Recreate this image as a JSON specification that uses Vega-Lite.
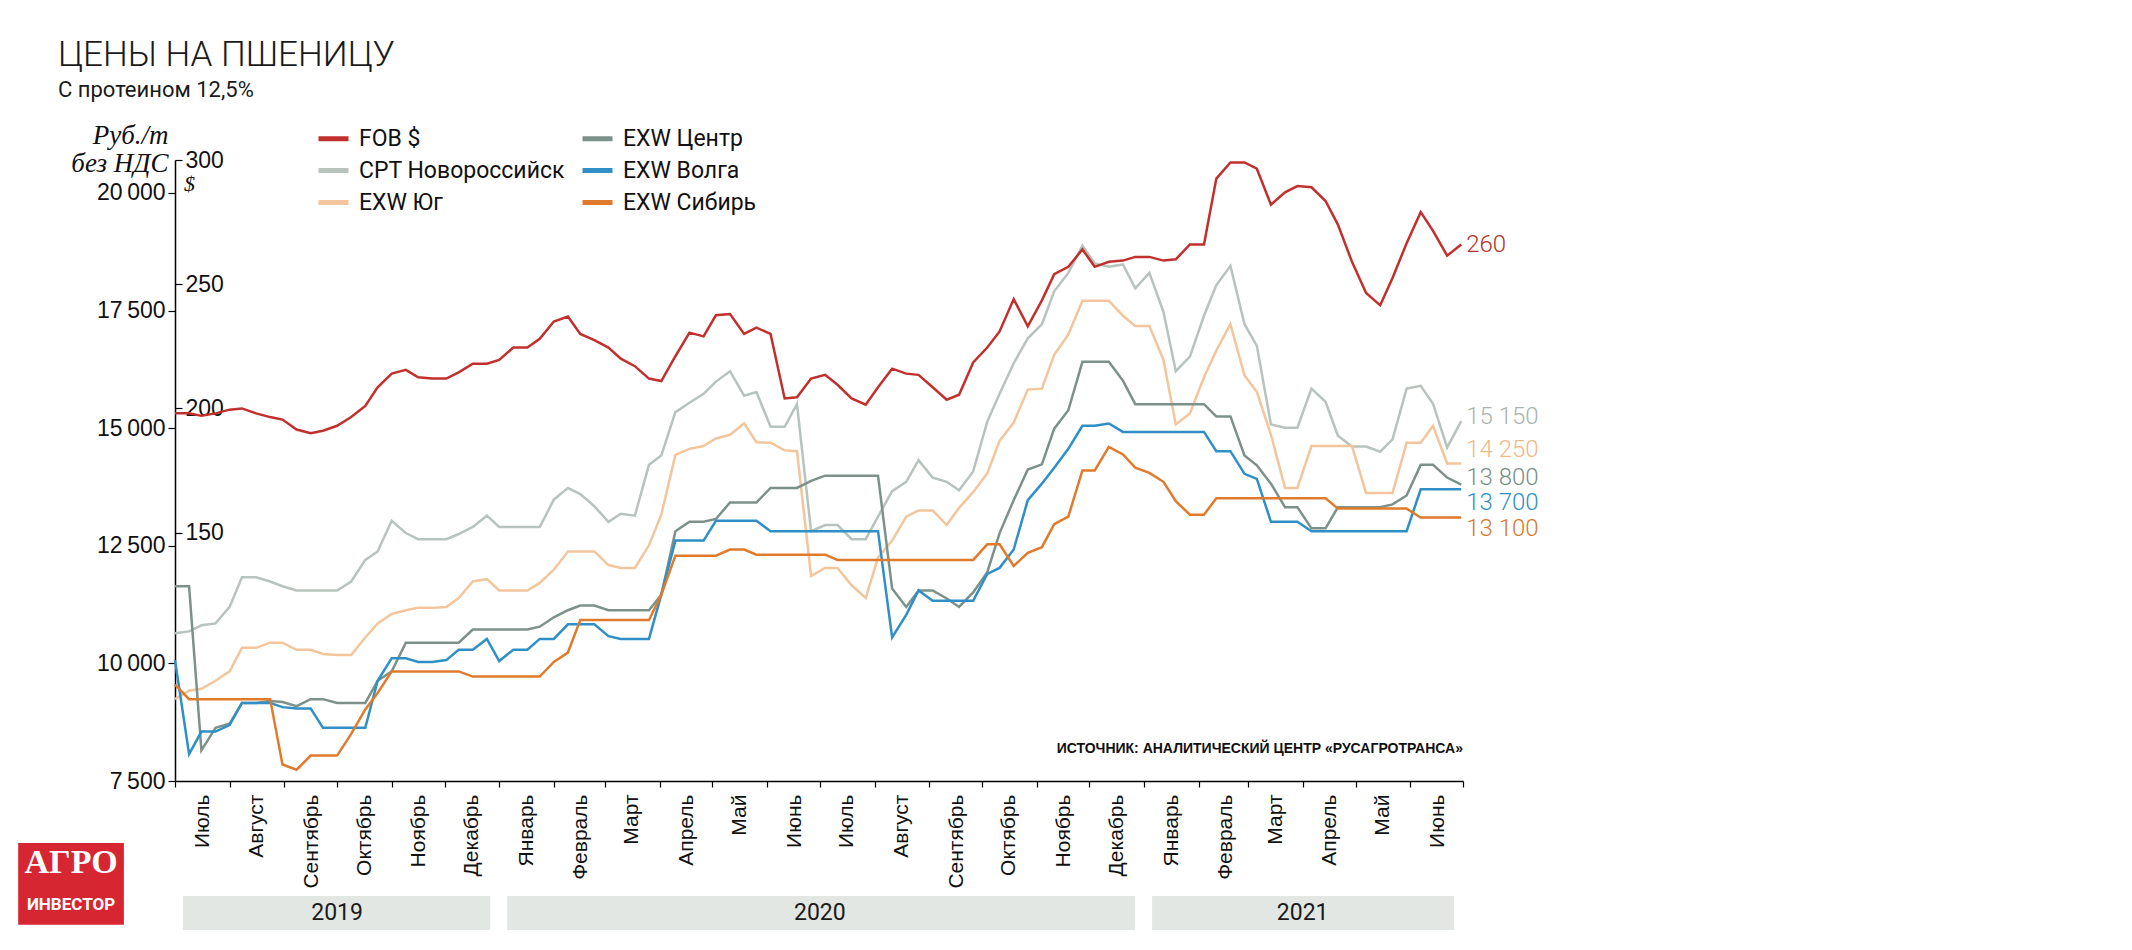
{
  "$schema": "https://vega.github.io/schema/vega-lite/v6.json",
  "width": 1288,
  "height": 621,
  "autosize": {"type": "none"},
  "padding": {"left": 175, "top": 160, "right": 669, "bottom": 169},
  "background": "#ffffff",
  "config": {"view": {"stroke": null}, "font": "Liberation Sans"},
  "title": {
    "text": "ЦЕНЫ НА ПШЕНИЦУ",
    "subtitle": "С протеином 12,5%",
    "anchor": "start",
    "frame": "group",
    "dx": -117,
    "offset": 20,
    "font": "Roboto, sans-serif",
    "fontSize": 35,
    "fontWeight": 300,
    "color": "#1a1a1a",
    "subtitleFont": "Roboto, sans-serif",
    "subtitleFontSize": 22,
    "subtitleFontWeight": 400,
    "subtitleColor": "#1a1a1a",
    "subtitlePadding": 7
  },
  "datasets": {
    "prices": [
      {"date": "2019-07-01", "FOB $": 198, "CPT Новороссийск": 10640, "EXW Юг": 9240, "EXW Центр": 11640, "EXW Волга": 10070, "EXW Сибирь": 9550},
      {"date": "2019-07-09", "FOB $": 198, "CPT Новороссийск": 10680, "EXW Юг": 9420, "EXW Центр": 11640, "EXW Волга": 8070, "EXW Сибирь": 9240},
      {"date": "2019-07-16", "FOB $": 197, "CPT Новороссийск": 10810, "EXW Юг": 9460, "EXW Центр": 8150, "EXW Волга": 8550, "EXW Сибирь": 9240},
      {"date": "2019-07-24", "FOB $": 198, "CPT Новороссийск": 10850, "EXW Юг": 9630, "EXW Центр": 8630, "EXW Волга": 8550, "EXW Сибирь": 9240},
      {"date": "2019-08-01", "FOB $": 199.5, "CPT Новороссийск": 11200, "EXW Юг": 9830, "EXW Центр": 8720, "EXW Волга": 8690, "EXW Сибирь": 9240},
      {"date": "2019-08-08", "FOB $": 200, "CPT Новороссийск": 11830, "EXW Юг": 10330, "EXW Центр": 9160, "EXW Волга": 9160, "EXW Сибирь": 9240},
      {"date": "2019-08-16", "FOB $": 198, "CPT Новороссийск": 11830, "EXW Юг": 10330, "EXW Центр": 9160, "EXW Волга": 9160, "EXW Сибирь": 9240},
      {"date": "2019-08-24", "FOB $": 196.5, "CPT Новороссийск": 11740, "EXW Юг": 10440, "EXW Центр": 9200, "EXW Волга": 9160, "EXW Сибирь": 9240},
      {"date": "2019-08-31", "FOB $": 195.5, "CPT Новороссийск": 11640, "EXW Юг": 10440, "EXW Центр": 9180, "EXW Волга": 9070, "EXW Сибирь": 7850},
      {"date": "2019-09-08", "FOB $": 191.5, "CPT Новороссийск": 11550, "EXW Юг": 10290, "EXW Центр": 9090, "EXW Волга": 9040, "EXW Сибирь": 7740},
      {"date": "2019-09-16", "FOB $": 190, "CPT Новороссийск": 11550, "EXW Юг": 10290, "EXW Центр": 9240, "EXW Волга": 9040, "EXW Сибирь": 8040},
      {"date": "2019-09-23", "FOB $": 191, "CPT Новороссийск": 11550, "EXW Юг": 10200, "EXW Центр": 9240, "EXW Волга": 8630, "EXW Сибирь": 8040},
      {"date": "2019-10-01", "FOB $": 193, "CPT Новороссийск": 11550, "EXW Юг": 10180, "EXW Центр": 9160, "EXW Волга": 8630, "EXW Сибирь": 8040},
      {"date": "2019-10-09", "FOB $": 196.5, "CPT Новороссийск": 11740, "EXW Юг": 10180, "EXW Центр": 9160, "EXW Волга": 8630, "EXW Сибирь": 8500},
      {"date": "2019-10-17", "FOB $": 201, "CPT Новороссийск": 12200, "EXW Юг": 10550, "EXW Центр": 9160, "EXW Волга": 8630, "EXW Сибирь": 9020},
      {"date": "2019-10-24", "FOB $": 208.5, "CPT Новороссийск": 12380, "EXW Юг": 10850, "EXW Центр": 9630, "EXW Волга": 9630, "EXW Сибирь": 9370},
      {"date": "2019-11-01", "FOB $": 214, "CPT Новороссийск": 13030, "EXW Юг": 11050, "EXW Центр": 9830, "EXW Волга": 10110, "EXW Сибирь": 9830},
      {"date": "2019-11-09", "FOB $": 215.5, "CPT Новороссийск": 12770, "EXW Юг": 11130, "EXW Центр": 10440, "EXW Волга": 10110, "EXW Сибирь": 9830},
      {"date": "2019-11-16", "FOB $": 212.5, "CPT Новороссийск": 12640, "EXW Юг": 11180, "EXW Центр": 10440, "EXW Волга": 10030, "EXW Сибирь": 9830},
      {"date": "2019-11-24", "FOB $": 212, "CPT Новороссийск": 12640, "EXW Юг": 11180, "EXW Центр": 10440, "EXW Волга": 10030, "EXW Сибирь": 9830},
      {"date": "2019-12-02", "FOB $": 212, "CPT Новороссийск": 12640, "EXW Юг": 11200, "EXW Центр": 10440, "EXW Волга": 10070, "EXW Сибирь": 9830},
      {"date": "2019-12-09", "FOB $": 214.5, "CPT Новороссийск": 12750, "EXW Юг": 11390, "EXW Центр": 10440, "EXW Волга": 10290, "EXW Сибирь": 9830},
      {"date": "2019-12-17", "FOB $": 218, "CPT Новороссийск": 12900, "EXW Юг": 11740, "EXW Центр": 10720, "EXW Волга": 10290, "EXW Сибирь": 9720},
      {"date": "2019-12-25", "FOB $": 218, "CPT Новороссийск": 13140, "EXW Юг": 11790, "EXW Центр": 10720, "EXW Волга": 10520, "EXW Сибирь": 9720},
      {"date": "2020-01-01", "FOB $": 219.5, "CPT Новороссийск": 12900, "EXW Юг": 11550, "EXW Центр": 10720, "EXW Волга": 10050, "EXW Сибирь": 9720},
      {"date": "2020-01-09", "FOB $": 224.5, "CPT Новороссийск": 12900, "EXW Юг": 11550, "EXW Центр": 10720, "EXW Волга": 10290, "EXW Сибирь": 9720},
      {"date": "2020-01-17", "FOB $": 224.5, "CPT Новороссийск": 12900, "EXW Юг": 11550, "EXW Центр": 10720, "EXW Волга": 10290, "EXW Сибирь": 9720},
      {"date": "2020-01-24", "FOB $": 228, "CPT Новороссийск": 12900, "EXW Юг": 11710, "EXW Центр": 10780, "EXW Волга": 10520, "EXW Сибирь": 9720},
      {"date": "2020-02-01", "FOB $": 235, "CPT Новороссийск": 13480, "EXW Юг": 11990, "EXW Центр": 10980, "EXW Волга": 10520, "EXW Сибирь": 10030},
      {"date": "2020-02-09", "FOB $": 237, "CPT Новороссийск": 13730, "EXW Юг": 12380, "EXW Центр": 11130, "EXW Волга": 10830, "EXW Сибирь": 10230},
      {"date": "2020-02-16", "FOB $": 230, "CPT Новороссийск": 13600, "EXW Юг": 12380, "EXW Центр": 11230, "EXW Волга": 10830, "EXW Сибирь": 10920},
      {"date": "2020-02-24", "FOB $": 227.5, "CPT Новороссийск": 13340, "EXW Юг": 12380, "EXW Центр": 11230, "EXW Волга": 10830, "EXW Сибирь": 10920},
      {"date": "2020-03-03", "FOB $": 224.5, "CPT Новороссийск": 13010, "EXW Юг": 12090, "EXW Центр": 11130, "EXW Волга": 10580, "EXW Сибирь": 10920},
      {"date": "2020-03-10", "FOB $": 220, "CPT Новороссийск": 13180, "EXW Юг": 12030, "EXW Центр": 11130, "EXW Волга": 10520, "EXW Сибирь": 10920},
      {"date": "2020-03-18", "FOB $": 217, "CPT Новороссийск": 13140, "EXW Юг": 12030, "EXW Центр": 11130, "EXW Волга": 10520, "EXW Сибирь": 10920},
      {"date": "2020-03-26", "FOB $": 212, "CPT Новороссийск": 14220, "EXW Юг": 12510, "EXW Центр": 11130, "EXW Волга": 10520, "EXW Сибирь": 10920},
      {"date": "2020-04-02", "FOB $": 211, "CPT Новороссийск": 14420, "EXW Юг": 13160, "EXW Центр": 11460, "EXW Волга": 11460, "EXW Сибирь": 11460},
      {"date": "2020-04-10", "FOB $": 221, "CPT Новороссийск": 15340, "EXW Юг": 14430, "EXW Центр": 12810, "EXW Волга": 12610, "EXW Сибирь": 12290},
      {"date": "2020-04-18", "FOB $": 230.5, "CPT Новороссийск": 15540, "EXW Юг": 14560, "EXW Центр": 13010, "EXW Волга": 12610, "EXW Сибирь": 12290},
      {"date": "2020-04-26", "FOB $": 229, "CPT Новороссийск": 15730, "EXW Юг": 14620, "EXW Центр": 13010, "EXW Волга": 12610, "EXW Сибирь": 12290},
      {"date": "2020-05-03", "FOB $": 237.5, "CPT Новороссийск": 15990, "EXW Юг": 14780, "EXW Центр": 13070, "EXW Волга": 13030, "EXW Сибирь": 12290},
      {"date": "2020-05-11", "FOB $": 238, "CPT Новороссийск": 16210, "EXW Юг": 14860, "EXW Центр": 13420, "EXW Волга": 13030, "EXW Сибирь": 12420},
      {"date": "2020-05-19", "FOB $": 230, "CPT Новороссийск": 15690, "EXW Юг": 15100, "EXW Центр": 13420, "EXW Волга": 13030, "EXW Сибирь": 12420},
      {"date": "2020-05-26", "FOB $": 232.5, "CPT Новороссийск": 15770, "EXW Юг": 14700, "EXW Центр": 13420, "EXW Волга": 13030, "EXW Сибирь": 12310},
      {"date": "2020-06-03", "FOB $": 230, "CPT Новороссийск": 15030, "EXW Юг": 14690, "EXW Центр": 13730, "EXW Волга": 12810, "EXW Сибирь": 12310},
      {"date": "2020-06-11", "FOB $": 204, "CPT Новороссийск": 15030, "EXW Юг": 14530, "EXW Центр": 13730, "EXW Волга": 12810, "EXW Сибирь": 12310},
      {"date": "2020-06-18", "FOB $": 204.5, "CPT Новороссийск": 15510, "EXW Юг": 14510, "EXW Центр": 13730, "EXW Волга": 12810, "EXW Сибирь": 12310},
      {"date": "2020-06-26", "FOB $": 212, "CPT Новороссийск": 12810, "EXW Юг": 11860, "EXW Центр": 13880, "EXW Волга": 12810, "EXW Сибирь": 12310},
      {"date": "2020-07-04", "FOB $": 213.5, "CPT Новороссийск": 12940, "EXW Юг": 12030, "EXW Центр": 13990, "EXW Волга": 12810, "EXW Сибирь": 12310},
      {"date": "2020-07-11", "FOB $": 209.5, "CPT Новороссийск": 12940, "EXW Юг": 12030, "EXW Центр": 13990, "EXW Волга": 12810, "EXW Сибирь": 12200},
      {"date": "2020-07-19", "FOB $": 204, "CPT Новороссийск": 12640, "EXW Юг": 11660, "EXW Центр": 13990, "EXW Волга": 12810, "EXW Сибирь": 12200},
      {"date": "2020-07-27", "FOB $": 201.5, "CPT Новороссийск": 12640, "EXW Юг": 11390, "EXW Центр": 13990, "EXW Волга": 12810, "EXW Сибирь": 12200},
      {"date": "2020-08-03", "FOB $": 208.5, "CPT Новороссийск": 13120, "EXW Юг": 12250, "EXW Центр": 13990, "EXW Волга": 12810, "EXW Сибирь": 12200},
      {"date": "2020-08-11", "FOB $": 216, "CPT Новороссийск": 13660, "EXW Юг": 12610, "EXW Центр": 11590, "EXW Волга": 10550, "EXW Сибирь": 12200},
      {"date": "2020-08-19", "FOB $": 214, "CPT Новороссийск": 13860, "EXW Юг": 13120, "EXW Центр": 11200, "EXW Волга": 11030, "EXW Сибирь": 12200},
      {"date": "2020-08-26", "FOB $": 213.5, "CPT Новороссийск": 14320, "EXW Юг": 13250, "EXW Центр": 11550, "EXW Волга": 11550, "EXW Сибирь": 12200},
      {"date": "2020-09-03", "FOB $": 208.5, "CPT Новороссийск": 13950, "EXW Юг": 13250, "EXW Центр": 11550, "EXW Волга": 11330, "EXW Сибирь": 12200},
      {"date": "2020-09-11", "FOB $": 203.5, "CPT Новороссийск": 13860, "EXW Юг": 12940, "EXW Центр": 11380, "EXW Волга": 11330, "EXW Сибирь": 12200},
      {"date": "2020-09-18", "FOB $": 205.5, "CPT Новороссийск": 13680, "EXW Юг": 13310, "EXW Центр": 11200, "EXW Волга": 11330, "EXW Сибирь": 12200},
      {"date": "2020-09-26", "FOB $": 218.5, "CPT Новороссийск": 14080, "EXW Юг": 13640, "EXW Центр": 11510, "EXW Волга": 11330, "EXW Сибирь": 12200},
      {"date": "2020-10-04", "FOB $": 224.5, "CPT Новороссийск": 15140, "EXW Юг": 14040, "EXW Центр": 11940, "EXW Волга": 11900, "EXW Сибирь": 12530},
      {"date": "2020-10-11", "FOB $": 231, "CPT Новороссийск": 15730, "EXW Юг": 14730, "EXW Центр": 12770, "EXW Волга": 12030, "EXW Сибирь": 12530},
      {"date": "2020-10-19", "FOB $": 244, "CPT Новороссийск": 16380, "EXW Юг": 15120, "EXW Центр": 13470, "EXW Волга": 12420, "EXW Сибирь": 12070},
      {"date": "2020-10-27", "FOB $": 233, "CPT Новороссийск": 16910, "EXW Юг": 15820, "EXW Центр": 14120, "EXW Волга": 13470, "EXW Сибирь": 12350},
      {"date": "2020-11-04", "FOB $": 243.5, "CPT Новороссийск": 17210, "EXW Юг": 15840, "EXW Центр": 14230, "EXW Волга": 13820, "EXW Сибирь": 12470},
      {"date": "2020-11-11", "FOB $": 254, "CPT Новороссийск": 17910, "EXW Юг": 16560, "EXW Центр": 14990, "EXW Волга": 14160, "EXW Сибирь": 12960},
      {"date": "2020-11-19", "FOB $": 257, "CPT Новороссийск": 18300, "EXW Юг": 16990, "EXW Центр": 15380, "EXW Волга": 14560, "EXW Сибирь": 13120},
      {"date": "2020-11-27", "FOB $": 264, "CPT Новороссийск": 18880, "EXW Юг": 17710, "EXW Центр": 16410, "EXW Волга": 15050, "EXW Сибирь": 14100},
      {"date": "2020-12-04", "FOB $": 257, "CPT Новороссийск": 18500, "EXW Юг": 17710, "EXW Центр": 16410, "EXW Волга": 15050, "EXW Сибирь": 14100},
      {"date": "2020-12-12", "FOB $": 259, "CPT Новороссийск": 18430, "EXW Юг": 17710, "EXW Центр": 16410, "EXW Волга": 15100, "EXW Сибирь": 14600},
      {"date": "2020-12-20", "FOB $": 259.5, "CPT Новороссийск": 18480, "EXW Юг": 17390, "EXW Центр": 16010, "EXW Волга": 14920, "EXW Сибирь": 14440},
      {"date": "2020-12-27", "FOB $": 261, "CPT Новороссийск": 17970, "EXW Юг": 17170, "EXW Центр": 15510, "EXW Волга": 14920, "EXW Сибирь": 14160},
      {"date": "2021-01-04", "FOB $": 261, "CPT Новороссийск": 18300, "EXW Юг": 17170, "EXW Центр": 15510, "EXW Волга": 14920, "EXW Сибирь": 14050},
      {"date": "2021-01-12", "FOB $": 259.5, "CPT Новороссийск": 17470, "EXW Юг": 16450, "EXW Центр": 15510, "EXW Волга": 14920, "EXW Сибирь": 13860},
      {"date": "2021-01-19", "FOB $": 260, "CPT Новороссийск": 16210, "EXW Юг": 15080, "EXW Центр": 15510, "EXW Волга": 14920, "EXW Сибирь": 13450},
      {"date": "2021-01-27", "FOB $": 266, "CPT Новороссийск": 16520, "EXW Юг": 15310, "EXW Центр": 15510, "EXW Волга": 14920, "EXW Сибирь": 13160},
      {"date": "2021-02-04", "FOB $": 266, "CPT Новороссийск": 17390, "EXW Юг": 16080, "EXW Центр": 15510, "EXW Волга": 14920, "EXW Сибирь": 13160},
      {"date": "2021-02-11", "FOB $": 292.5, "CPT Новороссийск": 18040, "EXW Юг": 16650, "EXW Центр": 15250, "EXW Волга": 14510, "EXW Сибирь": 13510},
      {"date": "2021-02-19", "FOB $": 299, "CPT Новороссийск": 18450, "EXW Юг": 17210, "EXW Центр": 15250, "EXW Волга": 14510, "EXW Сибирь": 13510},
      {"date": "2021-02-27", "FOB $": 299, "CPT Новороссийск": 17210, "EXW Юг": 16120, "EXW Центр": 14420, "EXW Волга": 14030, "EXW Сибирь": 13510},
      {"date": "2021-03-06", "FOB $": 296.5, "CPT Новороссийск": 16750, "EXW Юг": 15770, "EXW Центр": 14210, "EXW Волга": 13920, "EXW Сибирь": 13510},
      {"date": "2021-03-14", "FOB $": 282, "CPT Новороссийск": 15080, "EXW Юг": 14860, "EXW Центр": 13820, "EXW Волга": 13010, "EXW Сибирь": 13510},
      {"date": "2021-03-22", "FOB $": 287, "CPT Новороссийск": 15010, "EXW Юг": 13730, "EXW Центр": 13320, "EXW Волга": 13010, "EXW Сибирь": 13510},
      {"date": "2021-03-29", "FOB $": 289.5, "CPT Новороссийск": 15010, "EXW Юг": 13730, "EXW Центр": 13320, "EXW Волга": 13010, "EXW Сибирь": 13510},
      {"date": "2021-04-06", "FOB $": 289, "CPT Новороссийск": 15840, "EXW Юг": 14620, "EXW Центр": 12870, "EXW Волга": 12810, "EXW Сибирь": 13510},
      {"date": "2021-04-14", "FOB $": 283.5, "CPT Новороссийск": 15560, "EXW Юг": 14620, "EXW Центр": 12870, "EXW Волга": 12810, "EXW Сибирь": 13510},
      {"date": "2021-04-21", "FOB $": 274, "CPT Новороссийск": 14840, "EXW Юг": 14620, "EXW Центр": 13320, "EXW Волга": 12810, "EXW Сибирь": 13290},
      {"date": "2021-04-29", "FOB $": 259, "CPT Новороссийск": 14610, "EXW Юг": 14620, "EXW Центр": 13320, "EXW Волга": 12810, "EXW Сибирь": 13290},
      {"date": "2021-05-07", "FOB $": 246.5, "CPT Новороссийск": 14610, "EXW Юг": 13620, "EXW Центр": 13320, "EXW Волга": 12810, "EXW Сибирь": 13290},
      {"date": "2021-05-15", "FOB $": 241.5, "CPT Новороссийск": 14500, "EXW Юг": 13620, "EXW Центр": 13320, "EXW Волга": 12810, "EXW Сибирь": 13290},
      {"date": "2021-05-22", "FOB $": 252.5, "CPT Новороссийск": 14760, "EXW Юг": 13620, "EXW Центр": 13380, "EXW Волга": 12810, "EXW Сибирь": 13290},
      {"date": "2021-05-30", "FOB $": 266.5, "CPT Новороссийск": 15840, "EXW Юг": 14690, "EXW Центр": 13570, "EXW Волга": 12810, "EXW Сибирь": 13290},
      {"date": "2021-06-07", "FOB $": 279, "CPT Новороссийск": 15900, "EXW Юг": 14690, "EXW Центр": 14220, "EXW Волга": 13700, "EXW Сибирь": 13100},
      {"date": "2021-06-14", "FOB $": 271.5, "CPT Новороссийск": 15520, "EXW Юг": 15050, "EXW Центр": 14220, "EXW Волга": 13700, "EXW Сибирь": 13100},
      {"date": "2021-06-22", "FOB $": 261.5, "CPT Новороссийск": 14590, "EXW Юг": 14250, "EXW Центр": 13950, "EXW Волга": 13700, "EXW Сибирь": 13100},
      {"date": "2021-06-30", "FOB $": 266, "CPT Новороссийск": 15150, "EXW Юг": 14250, "EXW Центр": 13800, "EXW Волга": 13700, "EXW Сибирь": 13100}
    ],
    "ends": [
      {"series": "FOB $", "date": "2021-06-30", "value": 266, "label": "260"},
      {"series": "CPT Новороссийск", "date": "2021-06-30", "value": 15150, "label": "15 150"},
      {"series": "EXW Юг", "date": "2021-06-30", "value": 14250, "label": "14 250"},
      {"series": "EXW Центр", "date": "2021-06-30", "value": 13800, "label": "13 800"},
      {"series": "EXW Волга", "date": "2021-06-30", "value": 13700, "label": "13 700"},
      {"series": "EXW Сибирь", "date": "2021-06-30", "value": 13100, "label": "13 100"}
    ],
    "years": [
      {"year": "2019", "start": "2019-07-01", "end": "2020-01-01", "mid": "2019-10-01"},
      {"year": "2020", "start": "2020-01-01", "end": "2021-01-01", "mid": "2020-07-01"},
      {"year": "2021", "start": "2021-01-01", "end": "2021-07-01", "mid": "2021-04-01"}
    ]
  },
  "layer": [
    {
      "layer": [
        {
          "data": {"name": "prices"},
          "transform": [{"fold": ["CPT Новороссийск", "EXW Юг", "EXW Центр", "EXW Волга", "EXW Сибирь"], "as": ["series", "value"]}],
          "mark": {"type": "line", "strokeWidth": 2.5},
          "encoding": {
            "x": {
              "field": "date", "type": "temporal", "title": null,
              "scale": {"domain": ["2019-07-01", "2021-07-01"]},
              "axis": {
                "title": null,
                "tickCount": {"interval": "month", "step": 1},
                "labelExpr": "(month(datum.value) == 6 && year(datum.value) == 2021) ? '' : ['Январь','Февраль','Март','Апрель','Май','Июнь','Июль','Август','Сентябрь','Октябрь','Ноябрь','Декабрь'][month(datum.value)]",
                "labelAngle": 270,
                "labelOffset": 27,
                "labelPadding": 7,
                "labelFont": "Liberation Sans",
                "labelFontSize": 21,
                "labelColor": "#111111",
                "labelFlush": false,
                "labelOverlap": false,
                "tickSize": 6,
                "tickColor": "#000000",
                "tickWidth": 1.2,
                "domainColor": "#000000",
                "domainWidth": 1.5,
                "grid": false
              }
            },
            "y": {
              "field": "value", "type": "quantitative",
              "scale": {"domain": [7500, 20700], "nice": false, "zero": false},
              "axis": {
                "orient": "left",
                "values": [7500, 10000, 12500, 15000, 17500, 20000],
                "labelExpr": "replace(format(datum.value, ','), ',', '\u2009')",
                "labelFont": "Liberation Sans",
                "labelFontSize": 23,
                "labelColor": "#111111",
                "labelPadding": 3,
                "tickSize": 7,
                "tickColor": "#000000",
                "tickWidth": 1.2,
                "domainColor": "#000000",
                "domainWidth": 1.5,
                "grid": false,
                "title": ["Руб./т", "без НДС"],
                "titleAngle": 0,
                "titleAlign": "right",
                "titleBaseline": "alphabetic",
                "titleX": -7,
                "titleY": -17,
                "titleLineHeight": 28,
                "titleFont": "Liberation Serif",
                "titleFontStyle": "italic",
                "titleFontWeight": "normal",
                "titleFontSize": 27,
                "titleColor": "#111111"
              }
            },
            "color": {
              "field": "series", "type": "nominal",
              "scale": {
                "domain": ["FOB $", "CPT Новороссийск", "EXW Юг", "EXW Центр", "EXW Волга", "EXW Сибирь"],
                "range": ["#c1302c", "#b8c3bd", "#f3c59c", "#7c918a", "#2f8fc6", "#e07b2d"]
              },
              "legend": {
                "orient": "none",
                "legendX": 141,
                "legendY": -39,
                "columns": 2,
                "title": null,
                "symbolType": "stroke",
                "symbolSize": 900,
                "symbolStrokeWidth": 5,
                "labelFont": "Roboto, sans-serif",
                "labelFontSize": 23,
                "labelColor": "#111111",
                "labelOffset": 8,
                "labelLimit": 400,
                "rowPadding": 2,
                "columnPadding": 7
              }
            }
          }
        },
        {
          "data": {"name": "ends"},
          "transform": [{"filter": "datum.series === 'CPT Новороссийск'"}],
          "mark": {"type": "text", "align": "left", "baseline": "middle", "dx": 5, "dy": -4, "font": "Roboto, sans-serif", "fontWeight": 300, "fontSize": 24, "color": "#a9b4ae"},
          "encoding": {"x": {"field": "date", "type": "temporal", "title": null}, "y": {"field": "value", "type": "quantitative"}, "text": {"field": "label"}}
        },
        {
          "data": {"name": "ends"},
          "transform": [{"filter": "datum.series === 'EXW Юг'"}],
          "mark": {"type": "text", "align": "left", "baseline": "middle", "dx": 5, "dy": -13, "font": "Roboto, sans-serif", "fontWeight": 300, "fontSize": 24, "color": "#efb886"},
          "encoding": {"x": {"field": "date", "type": "temporal", "title": null}, "y": {"field": "value", "type": "quantitative"}, "text": {"field": "label"}}
        },
        {
          "data": {"name": "ends"},
          "transform": [{"filter": "datum.series === 'EXW Центр'"}],
          "mark": {"type": "text", "align": "left", "baseline": "middle", "dx": 5, "dy": -7, "font": "Roboto, sans-serif", "fontWeight": 300, "fontSize": 24, "color": "#7a8f88"},
          "encoding": {"x": {"field": "date", "type": "temporal", "title": null}, "y": {"field": "value", "type": "quantitative"}, "text": {"field": "label"}}
        },
        {
          "data": {"name": "ends"},
          "transform": [{"filter": "datum.series === 'EXW Волга'"}],
          "mark": {"type": "text", "align": "left", "baseline": "middle", "dx": 5, "dy": 14, "font": "Roboto, sans-serif", "fontWeight": 300, "fontSize": 24, "color": "#2f8fc6"},
          "encoding": {"x": {"field": "date", "type": "temporal", "title": null}, "y": {"field": "value", "type": "quantitative"}, "text": {"field": "label"}}
        },
        {
          "data": {"name": "ends"},
          "transform": [{"filter": "datum.series === 'EXW Сибирь'"}],
          "mark": {"type": "text", "align": "left", "baseline": "middle", "dx": 5, "dy": 11, "font": "Roboto, sans-serif", "fontWeight": 300, "fontSize": 24, "color": "#d8782d"},
          "encoding": {"x": {"field": "date", "type": "temporal", "title": null}, "y": {"field": "value", "type": "quantitative"}, "text": {"field": "label"}}
        },
        {
          "data": {"values": [{}]},
          "mark": {"type": "text", "align": "right", "baseline": "middle", "font": "Liberation Sans", "fontWeight": "bold", "fontSize": 14, "color": "#111111", "text": "ИСТОЧНИК: АНАЛИТИЧЕСКИЙ ЦЕНТР «РУСАГРОТРАНСА»"},
          "encoding": {
            "x": {"datum": {"year": 2021, "month": 7, "date": 1, "utc": true}, "type": "temporal", "title": null},
            "y": {"datum": 8180, "type": "quantitative"}
          }
        }
      ]
    },
    {
      "layer": [
        {
          "data": {"name": "prices"},
          "mark": {"type": "line", "strokeWidth": 2.5},
          "encoding": {
            "x": {"field": "date", "type": "temporal", "title": null},
            "y": {
              "field": "FOB $", "type": "quantitative",
              "scale": {"domain": [50, 300], "nice": false, "zero": false},
              "axis": {
                "orient": "right",
                "offset": -1288,
                "values": [150, 200, 250, 300],
                "domain": false,
                "grid": false,
                "tickSize": 7,
                "tickColor": "#000000",
                "tickWidth": 1.2,
                "labelFont": "Liberation Sans",
                "labelFontSize": 23,
                "labelColor": "#111111",
                "labelPadding": 3,
                "title": "$",
                "titleAngle": 0,
                "titleAlign": "center",
                "titleBaseline": "alphabetic",
                "titleX": 14,
                "titleY": 30,
                "titleFont": "Liberation Serif",
                "titleFontStyle": "italic",
                "titleFontWeight": "normal",
                "titleFontSize": 22,
                "titleColor": "#111111"
              }
            },
            "color": {"datum": "FOB $", "type": "nominal"}
          }
        },
        {
          "data": {"name": "ends"},
          "transform": [{"filter": "datum.series === 'FOB $'"}],
          "mark": {"type": "text", "align": "left", "baseline": "middle", "dx": 5, "dy": 1, "font": "Roboto, sans-serif", "fontWeight": 300, "fontSize": 24, "color": "#b8302b"},
          "encoding": {"x": {"field": "date", "type": "temporal", "title": null}, "y": {"field": "value", "type": "quantitative"}, "text": {"field": "label"}}
        }
      ]
    },
    {
      "layer": [
        {
          "data": {"name": "years"},
          "mark": {"type": "rect", "color": "#e3e7e4", "xOffset": 8, "x2Offset": -9},
          "encoding": {
            "x": {"field": "start", "type": "temporal", "title": null},
            "x2": {"field": "end"},
            "y": {"datum": 0, "type": "quantitative", "scale": {"domain": [4.38, 22.64], "nice": false, "zero": false}, "axis": null},
            "y2": {"datum": 1}
          }
        },
        {
          "data": {"name": "years"},
          "mark": {"type": "text", "align": "center", "baseline": "middle", "font": "Roboto, sans-serif", "fontSize": 23, "color": "#1a1a1a"},
          "encoding": {
            "x": {"field": "mid", "type": "temporal", "title": null},
            "y": {"datum": 0.5, "type": "quantitative"},
            "text": {"field": "year"}
          }
        },
        {
          "data": {"values": [{}]},
          "mark": {"type": "rect", "color": "#d62631"},
          "encoding": {
            "x": {"datum": {"year": 2019, "month": 4, "date": 3, "utc": true}, "type": "temporal", "title": null},
            "x2": {"datum": {"year": 2019, "month": 6, "date": 2, "utc": true}},
            "y": {"datum": 0.15, "type": "quantitative"},
            "y2": {"datum": 2.56}
          }
        },
        {
          "data": {"values": [{}]},
          "mark": {"type": "text", "align": "center", "baseline": "middle", "font": "Liberation Serif", "fontWeight": "bold", "fontSize": 34, "color": "#ffffff", "text": "АГРО"},
          "encoding": {
            "x": {"datum": {"year": 2019, "month": 5, "date": 3, "utc": true}, "type": "temporal", "title": null},
            "y": {"datum": 1.97, "type": "quantitative"}
          }
        },
        {
          "data": {"values": [{}]},
          "mark": {"type": "text", "align": "center", "baseline": "middle", "font": "Roboto, sans-serif", "fontWeight": "bold", "fontSize": 17, "color": "#ffffff", "text": "ИНВЕСТОР"},
          "encoding": {
            "x": {"datum": {"year": 2019, "month": 5, "date": 3, "utc": true}, "type": "temporal", "title": null},
            "y": {"datum": 0.74, "type": "quantitative"}
          }
        }
      ]
    }
  ],
  "resolve": {"scale": {"y": "independent"}}
}
